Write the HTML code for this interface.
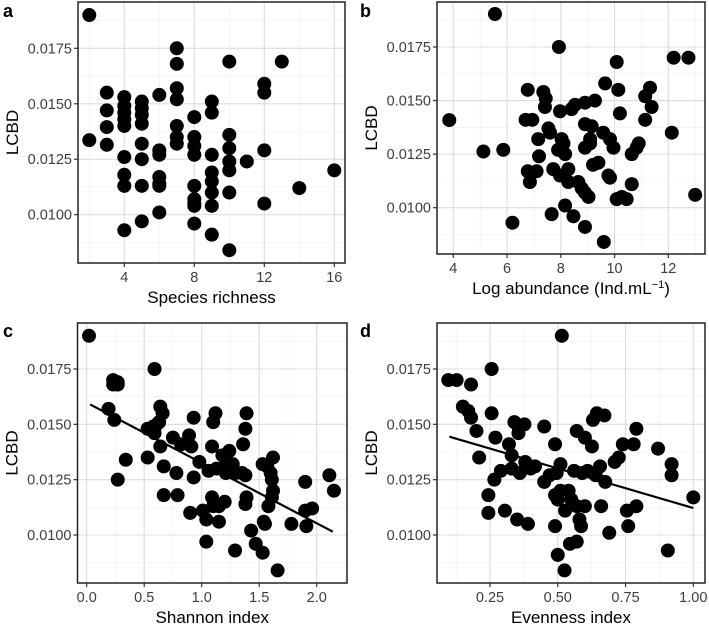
<!DOCTYPE html>
<html><head><meta charset="utf-8">
<style>
html,body{margin:0;padding:0;background:#fff;}
svg{display:block;font-family:"Liberation Sans",Arial,sans-serif;}
</style></head>
<body>
<svg id="fig" width="709" height="624" viewBox="0 0 709 624"></svg>
<script>
// Panel a: Species richness
const richX = [2,2,3,3,3,3,4,4,4,4,4,4,4,4,4,5,5,5,5,5,5,5,5,6,6,6,6,6,6,6,7,7,7,7,7,7,7,8,8,8,8,8,8,8,8,8,9,9,9,9,9,9,9,9,10,10,10,10,10,10,10,11,12,12,12,12,13,14,16];
const richY = [0.0190,0.01336,0.0155,0.0147,0.01395,0.01315,0.0153,0.0149,0.0146,0.0143,0.0140,0.0126,0.0118,0.0113,0.0093,0.0151,0.0148,0.0145,0.0141,0.0132,0.0125,0.0113,0.0097,0.0154,0.0129,0.0127,0.0117,0.0114,0.0113,0.0101,0.0175,0.0168,0.0157,0.0152,0.0140,0.0135,0.0132,0.0144,0.0135,0.0131,0.0127,0.0113,0.0107,0.0105,0.0104,0.0096,0.0151,0.0146,0.0127,0.0119,0.0115,0.0110,0.0104,0.0091,0.0169,0.0136,0.0130,0.0124,0.0120,0.0110,0.0084,0.0124,0.0159,0.0155,0.0129,0.0105,0.0169,0.0112,0.0120];
// Panel b: Log abundance
const abundX = [5.55,7.93,3.85,5.12,5.86,6.2,6.77,6.69,6.94,7.35,7.44,7.41,6.77,6.85,7.1,7.16,7.19,7.54,7.6,7.66,7.97,8.03,8.1,7.9,8.16,7.72,7.97,8.28,8.16,8.47,8.28,8.65,8.78,8.9,9.03,8.4,8.53,8.9,9.27,8.9,9.15,8.9,9.09,9.09,9.2,9.4,8.9,9.6,9.65,9.58,9.83,9.96,9.77,9.83,10.08,10.14,10.2,10.08,10.27,10.45,10.64,10.64,10.82,10.9,11.14,11.14,11.32,11.38,12.13,12.2,12.75,13.0];
const abundY = [0.01904,0.0175,0.01409,0.01262,0.0127,0.0093,0.0155,0.0141,0.0141,0.0154,0.0151,0.0147,0.0117,0.0112,0.0117,0.0132,0.0124,0.0137,0.0135,0.0097,0.0145,0.0132,0.0130,0.0127,0.0125,0.0118,0.0115,0.0118,0.0101,0.0096,0.0112,0.0112,0.0109,0.0107,0.0105,0.0146,0.0148,0.0149,0.0150,0.0139,0.0138,0.0128,0.0132,0.0130,0.0120,0.0121,0.0091,0.0084,0.0158,0.0135,0.0132,0.0128,0.0115,0.0114,0.0168,0.0155,0.0144,0.0104,0.0105,0.0104,0.0111,0.0125,0.0128,0.0130,0.0141,0.0152,0.0156,0.0147,0.0135,0.0170,0.0170,0.0106];
// Panel c: Shannon index
const shanX = [0.02,0.23,0.27,0.23,0.27,0.59,0.19,0.24,0.34,0.27,0.53,0.58,0.61,0.64,0.66,0.63,0.59,0.53,0.64,0.67,0.67,0.75,0.82,0.78,0.79,0.89,0.91,0.93,0.93,0.90,0.98,1.06,1.01,1.04,1.04,1.12,1.10,1.09,1.09,1.10,1.15,1.15,1.20,1.18,1.24,1.13,1.20,1.27,1.21,1.29,1.35,1.38,1.29,1.36,1.39,1.38,1.39,1.38,1.43,1.47,1.53,1.54,1.55,1.53,1.57,1.60,1.61,1.62,1.61,1.58,1.62,1.66,1.78,1.90,1.90,1.91,1.96,2.11,2.15];
const shanY = [0.0190,0.0170,0.0169,0.0168,0.0168,0.0175,0.0157,0.0152,0.0134,0.0125,0.0148,0.0149,0.0150,0.0158,0.0155,0.0151,0.0146,0.0135,0.0140,0.0131,0.0118,0.0144,0.0141,0.0128,0.0118,0.0145,0.0140,0.0153,0.0126,0.0110,0.0133,0.0129,0.0111,0.0107,0.0097,0.0155,0.0151,0.0140,0.0117,0.0113,0.0113,0.0106,0.0115,0.0136,0.0138,0.0130,0.0131,0.0132,0.0128,0.0128,0.0128,0.0127,0.0093,0.0141,0.0155,0.0148,0.0117,0.0114,0.0102,0.0096,0.0092,0.0106,0.0105,0.0132,0.0131,0.0128,0.0125,0.0120,0.0117,0.0113,0.0135,0.0084,0.0105,0.0124,0.0111,0.0104,0.0112,0.0127,0.0120];
const shanFitX = [0.03,2.14];
const shanFitY = [0.0159,0.01015];
// Panel d: Evenness index
const evenX = [0.515,0.096,0.127,0.18,0.256,0.15,0.17,0.18,0.20,0.21,0.256,0.27,0.244,0.244,0.266,0.29,0.305,0.32,0.33,0.33,0.34,0.355,0.377,0.355,0.36,0.35,0.39,0.38,0.40,0.416,0.45,0.45,0.47,0.49,0.49,0.496,0.49,0.50,0.51,0.51,0.50,0.525,0.527,0.54,0.55,0.545,0.57,0.57,0.60,0.58,0.586,0.56,0.59,0.57,0.60,0.626,0.61,0.64,0.63,0.644,0.672,0.656,0.66,0.675,0.69,0.71,0.725,0.74,0.78,0.755,0.79,0.76,0.79,0.87,0.92,0.92,0.906,1.0];
const evenY = [0.0190,0.0170,0.0170,0.0168,0.0175,0.0158,0.0156,0.0153,0.0147,0.0135,0.0155,0.0144,0.0118,0.0110,0.0125,0.0129,0.0111,0.0141,0.0136,0.0130,0.0151,0.0149,0.0150,0.0146,0.0128,0.0107,0.0105,0.0133,0.0130,0.0131,0.0149,0.0124,0.0127,0.0141,0.0104,0.0128,0.0118,0.0116,0.0120,0.0132,0.0091,0.0084,0.0111,0.0120,0.0116,0.0096,0.0097,0.0147,0.0144,0.0107,0.0104,0.0129,0.0128,0.0113,0.0113,0.0140,0.0129,0.0127,0.0152,0.0155,0.0154,0.0131,0.0113,0.0124,0.0101,0.0133,0.0135,0.0141,0.0141,0.0111,0.0113,0.0104,0.0148,0.0139,0.0132,0.0127,0.0093,0.0117];
const evenFitX = [0.1,1.0];
const evenFitY = [0.01444,0.01122];
const yTicks = [0.0100,0.0125,0.0150,0.0175];
const yTickLabels = ["0.0100","0.0125","0.0150","0.0175"];

const NS = "http://www.w3.org/2000/svg";
const svg = document.getElementById('fig');
function mk(tag, attrs, parent){
  const e = document.createElementNS(NS, tag);
  for (const k in attrs) e.setAttribute(k, attrs[k]);
  (parent||svg).appendChild(e);
  return e;
}
function linScale(d0,d1,r0,r1){ return v => r0 + (v-d0)*(r1-r0)/(d1-d0); }

function panel(cfg){
  const g = mk('g', {});
  
  
  const sx = linScale(cfg.xd[0], cfg.xd[1], cfg.xr[0], cfg.xr[1]);
  const sy = linScale(0.0100, 0.0175, cfg.yr[0], cfg.yr[1]);
  const L=cfg.box[0], T=cfg.box[1], R=cfg.box[2], B=cfg.box[3];
  const vmin = cfg.xd[0] + (L - cfg.xr[0])*(cfg.xd[1]-cfg.xd[0])/(cfg.xr[1]-cfg.xr[0]);
  const vmax = cfg.xd[0] + (R - cfg.xr[0])*(cfg.xd[1]-cfg.xd[0])/(cfg.xr[1]-cfg.xr[0]);
  for (let v = cfg.xMajor[0]-cfg.xStep/2; v <= vmax; v += cfg.xStep/2){
    if (v < vmin) continue;
    const px = sx(v);
    const isMajor = cfg.xMajor.some(m => Math.abs(m-v) < 1e-9);
    const ln = mk('line', {x1:px,x2:px,y1:T,y2:B,stroke:isMajor?'#dcdcdc':'#efefef','stroke-width':isMajor?1.1:0.6}, g);
    
    
  }
  for (let v = 0.00875; v < 0.0195; v += 0.00125){
    const py = sy(v);
    if (py < T || py > B) continue;
    const isMajor = yTicks.some(m => Math.abs(m-v) < 1e-7);
    const ln = mk('line', {x1:L,x2:R,y1:py,y2:py,stroke:isMajor?'#dcdcdc':'#efefef','stroke-width':isMajor?1.1:0.6}, g);
    
    
  }
  for (let i=0;i<cfg.xs.length;i++){
    const c = mk('circle', {cx:sx(cfg.xs[i]), cy:sy(cfg.ys[i]), r:7, fill:'#000'}, g);
    
    
  }
  if (cfg.fitX){
    const l = mk('line', {x1:sx(cfg.fitX[0]),y1:sy(cfg.fitY[0]),x2:sx(cfg.fitX[1]),y2:sy(cfg.fitY[1]),stroke:'#000','stroke-width':2.2}, g);
    
    
  }
  const fr = mk('rect', {x:L,y:T,width:R-L,height:B-T,fill:'none',stroke:'#222','stroke-width':1.5}, g);
  
  
  yTicks.forEach((v,i)=>{
    const py = sy(v);
    const t = mk('line', {x1:L-4,x2:L,y1:py,y2:py,stroke:'#333','stroke-width':1.2}, g);
    
    
    const tx = mk('text', {x:L-6,y:py+5,'text-anchor':'end','font-size':14.5,fill:'#3d3d3d'}, g);
    tx.textContent = yTickLabels[i];
    
    
  });
  cfg.xMajor.forEach((v,i)=>{
    const px = sx(v);
    const t = mk('line', {x1:px,x2:px,y1:B,y2:B+4,stroke:'#333','stroke-width':1.2}, g);
    
    
    const tx = mk('text', {x:px,y:B+19,'text-anchor':'middle','font-size':14.5,fill:'#3d3d3d'}, g);
    tx.textContent = cfg.xLabels[i];
    
    
  });
  const yt = mk('text', {x:0,y:0,'text-anchor':'middle','font-size':17,fill:'#000',transform:`translate(${L-60},${(T+B)/2}) rotate(-90)`}, g);
  yt.textContent = 'LCBD';
  
  
  const xt = mk('text', {x:(L+R)/2,y:B+40,'text-anchor':'middle','font-size':17,fill:'#000'}, g);
  xt.innerHTML = cfg.xTitle;
  
  
  const lt = mk('text', {x:cfg.letter[1],y:cfg.letter[2],'font-size':18,'font-weight':'bold',fill:'#000'}, g);
  lt.textContent = cfg.letter[0];
  
  
}

panel({name:'panel-a-species-richness', box:[78,2,345,263], xd:[4,16], xr:[124.3,334.3], yr:[214.7,48.3],
  xMajor:[4,8,12,16], xStep:4, xLabels:['4','8','12','16'], xs:richX, ys:richY, xTitle:'Species richness', letter:['a',3,17]});
panel({name:'panel-b-log-abundance', box:[437,2,705,254], xd:[4,12], xr:[453.3,668.3], yr:[207.7,47],
  xMajor:[4,6,8,10,12], xStep:2, xLabels:['4','6','8','10','12'], xs:abundX, ys:abundY,
  xTitle:'Log abundance (Ind.mL<tspan font-size="11" dy="-6">−1</tspan><tspan dy="6">)</tspan>', letter:['b',360,17]});
panel({name:'panel-c-shannon-index', box:[77.5,323,347,583], xd:[0,2], xr:[86.7,316.7], yr:[535,369],
  xMajor:[0,0.5,1,1.5,2], xStep:0.5, xLabels:['0.0','0.5','1.0','1.5','2.0'], xs:shanX, ys:shanY,
  fitX:shanFitX, fitY:shanFitY, xTitle:'Shannon index', letter:['c',3,337]});
panel({name:'panel-d-evenness-index', box:[437,323,705,583], xd:[0.25,1], xr:[490,693.3], yr:[535,369],
  xMajor:[0.25,0.5,0.75,1], xStep:0.25, xLabels:['0.25','0.50','0.75','1.00'], xs:evenX, ys:evenY,
  fitX:evenFitX, fitY:evenFitY, xTitle:'Evenness index', letter:['d',360,337]});
</script>
</body></html>
